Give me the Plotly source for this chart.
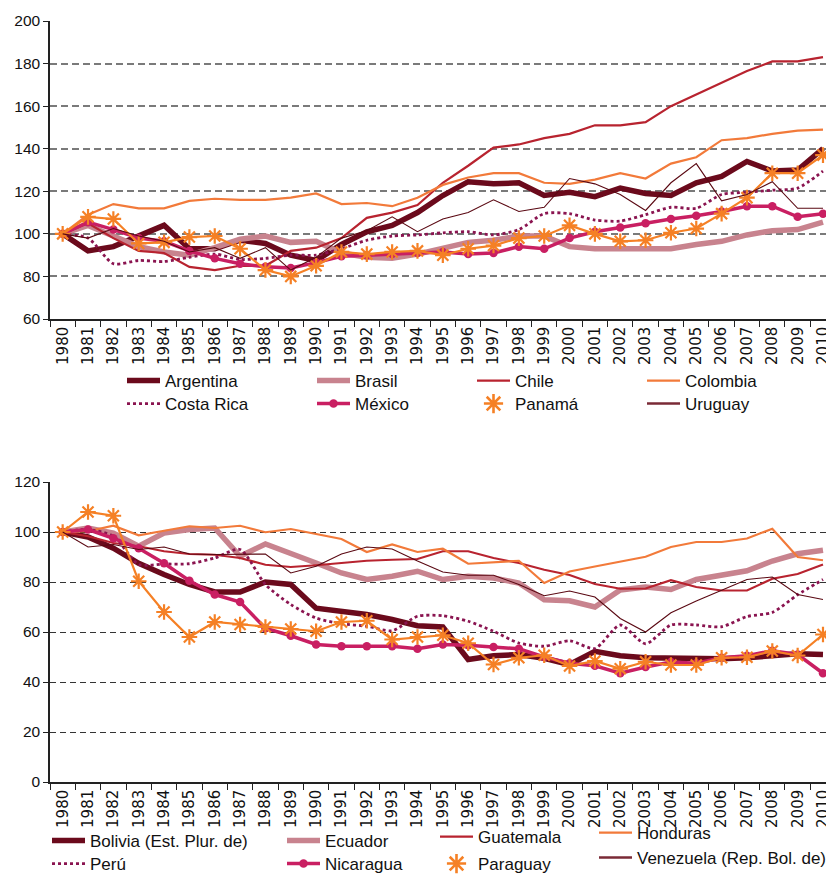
import plotly.graph_objects as go

years = [str(y) for y in range(1980, 2011)]

# ---- Top panel ----
argentina = [100, 92, 94, 99, 104, 93, 93, 97, 95.5, 90, 87.5, 95, 101, 104, 110, 118, 124.5, 123.5, 124, 118, 119.5, 117.5, 121.5, 119, 118, 124, 127, 134, 129.5, 130, 140]
brasil = [100, 104, 99, 94, 91.5, 90, 93.5, 97.5, 99, 96, 96.5, 91, 89, 88.5, 90.5, 93.5, 96, 97, 99, 99, 94, 93, 93, 93, 93, 95, 96.5, 99.5, 101.5, 102, 105.5]
chile = [100, 105, 98, 92, 91, 84.5, 83, 85, 85, 92, 93.5, 98, 107.5, 110, 113.5, 124, 132, 140.5, 142, 145, 147, 151, 151, 152.5, 160, 165.5, 171, 176.5, 181, 181, 183]
colombia = [100, 109, 114, 112, 112, 115.5, 116.5, 116, 116, 117, 119, 114, 114.5, 113, 117, 123, 126.5, 128.5, 128.5, 124, 123.5, 125.5, 128.5, 126, 133, 136, 144, 145, 147, 148.5, 149]
costa_rica = [100, 98, 86, 87.5, 87, 89, 90.5, 88, 88.5, 90, 90, 93, 97, 99, 99.5, 100.5, 101, 99.5, 102, 109.5, 109.5, 106.5, 106, 109, 112.5, 112, 118.5, 119.5, 120.5, 121.5, 129.5]
mexico = [100, 105.5, 102, 98, 96.5, 92, 88.5, 86, 84.5, 84, 86.5, 89.5, 90, 90.5, 91, 91.5, 90.5, 91, 94, 93, 98, 101, 103, 105, 107, 108.5, 110.5, 113, 113, 108, 109.5]
panama = [100, 108, 107, 95.5, 96, 98.5, 99, 93, 83, 80, 85, 91.5, 90.5, 91.5, 92, 90, 93, 94.5, 98, 99, 104, 100, 96.5, 97, 100.5, 102.5, 109.5, 117, 128.5, 128.5, 137]
uruguay = [100, 98, 102.5, 99, 96.5, 91.5, 93.5, 88.5, 93.5, 83, 89, 98, 101.5, 108, 101, 107, 110, 116, 110.5, 112.5, 126, 123.5, 118.5, 111, 124, 133, 115.5, 118.5, 124.5, 112, 112]

# ---- Bottom panel ----
bolivia = [100, 98, 93.5, 87.5, 83, 79, 76, 76, 80, 79, 69.5, 68.5, 67, 65, 62.5, 62, 49, 50.5, 51, 49.5, 47, 52.3, 50.5, 49.7, 49.5, 49, 49.3, 49.7, 50.5, 51.3, 51]
ecuador = [100, 101.6, 99.6, 94.3, 99.6, 101, 101.6, 90.3, 95.2, 91.6, 87.6, 83.6, 81, 82.3, 84.3, 81, 82.3, 81.6, 79.6, 72.9, 72.5, 70, 76.8, 78, 77, 81, 82.6, 84.5, 88.4, 91.3, 92.7]
guatemala = [100, 98.3, 95.6, 94.3, 92.3, 91.2, 90.9, 89.6, 86.9, 86, 86.7, 87.6, 88.5, 88.9, 89.2, 92.3, 92.3, 89.6, 87.6, 84.9, 82.8, 79.2, 77.3, 77.4, 80.7, 78, 76.6, 76.6, 81.3, 83.2, 87]
honduras = [100, 100.3, 102.5, 98.7, 100.5, 102.3, 101.6, 102.5, 99.9, 101.2, 99.2, 97.2, 92, 95, 92, 93.3, 87.3, 87.9, 88.5, 79.6, 84.2, 86.2, 88.3, 90.1, 94, 96, 96, 97.4, 101.3, 90, 88.7]
peru = [100, 101, 98.3, 87, 87.2, 87.3, 89.6, 93, 79, 71, 65.6, 63.3, 62.3, 60.5, 66.3, 66.5, 64.3, 60.3, 55.6, 54.3, 56.5, 53.4, 62.8, 55.3, 62.8, 62.8, 62.1, 66.2, 67.8, 74.9, 81]
nicaragua = [100, 101, 97.5, 93.5, 87.5, 80.5, 75, 72, 61.5, 58.5, 55, 54.3, 54.3, 54.3, 53.3, 55, 54.7, 54, 53.3, 50, 47.5, 46.5, 43.5, 46, 48, 47.5, 49.7, 50.5, 52.5, 51, 43.5]
paraguay = [100, 108, 106.5, 80.3, 68, 58, 64, 63, 62, 61.2, 60.3, 64, 64.5, 57, 58, 58.7, 55.5, 47, 49.7, 50.7, 46.4, 48.4, 45.3, 48.1, 46.8, 46.8, 49.7, 49.9, 52.4, 50.6, 59]
venezuela = [100, 94, 95, 93, 94, 91.2, 91, 91, 91.2, 83.6, 86.3, 91.2, 94, 93.2, 88.4, 84, 82.7, 82.7, 79, 74.5, 76.4, 74, 65.4, 60, 67.7, 72.4, 76.7, 81, 82, 75, 73]

W, H = 834, 876
ML, MR, MT, MB = 42, 0, 13, 102
PW, PH = W - ML - MR, H - MT - MB
LEG_FONT = dict(family="Liberation Sans, Arial, sans-serif", size=17, color="#111")

styles = [
    dict(mode="lines", line=dict(color="#6B0A1C", width=5.5)),
    dict(mode="lines", line=dict(color="#C8838E", width=5.5)),
    dict(mode="lines", line=dict(color="#B8232F", width=2.2)),
    dict(mode="lines", line=dict(color="#F27A3A", width=2.2)),
    dict(mode="lines", line=dict(color="#8A1450", width=2.8, dash="dot", shape="spline", smoothing=0.7)),
    dict(mode="lines+markers", line=dict(color="#C91F62", width=3.5), marker=dict(symbol="circle", size=8.5, color="#C91F62")),
    dict(mode="lines+markers", line=dict(color="#F58025", width=2.2), marker=dict(symbol="asterisk-open", size=13, color="#F58025", line=dict(color="#F58025", width=2.2))),
    dict(mode="lines", line=dict(color="#5A0812", width=1.1)),
]
# legend keys that differ from the drawn line (reference shows marker-only / thicker key)
legend_keys = {
    6: dict(mode="markers", marker=dict(symbol="asterisk-open", size=19, color="#F58025", line=dict(color="#F58025", width=2.6))),
    7: dict(mode="lines", line=dict(color="#7A2A36", width=2.6)),
}

top_series = [("Argentina", argentina), ("Brasil", brasil), ("Chile", chile), ("Colombia", colombia),
              ("Costa Rica", costa_rica), ("México", mexico), ("Panamá", panama), ("Uruguay", uruguay)]
bot_series = [("Bolivia (Est. Plur. de)", bolivia), ("Ecuador", ecuador), ("Guatemala", guatemala), ("Honduras", honduras),
              ("Perú", peru), ("Nicaragua", nicaragua), ("Paraguay", paraguay), ("Venezuela (Rep. Bol. de)", venezuela)]

# legend text start x (px) and centre y (px)
top_leg_pos = [(165, 381), (355, 381), (515, 381), (685, 381), (165, 404), (355, 404), (515, 404), (685, 404)]
bot_leg_pos = [(90, 841), (325, 841), (478, 837), (637, 833), (90, 864), (325, 864), (478, 864), (637, 858)]

X_MAX = 30.75  # right end of category axis (plot runs slightly past the last year)

fig = go.Figure()
legends = {}
k = 0
for series, xa, ya, pos in [(top_series, "x", "y", top_leg_pos), (bot_series, "x2", "y2", bot_leg_pos)]:
    for i, ((name, vals), st, (tx, ty)) in enumerate(zip(series, styles, pos)):
        k += 1
        lid = "legend" if k == 1 else f"legend{k}"
        special = i in legend_keys
        fig.add_trace(go.Scatter(x=years, y=vals, name=name, xaxis=xa, yaxis=ya,
                                 legend=lid, showlegend=not special, **st))
        if special:
            fig.add_trace(go.Scatter(x=[None], y=[None], name=name, xaxis=xa, yaxis=ya,
                                     legend=lid, showlegend=True, hoverinfo="skip", **legend_keys[i]))
        legends[lid] = dict(x=(tx - 51 - ML) / PW, y=(H - MB - ty + 8) / PH, xref="paper", yref="paper",
                            xanchor="left", yanchor="middle", bgcolor="rgba(0,0,0,0)",
                            orientation="h", borderwidth=0, itemwidth=33, font=LEG_FONT,
                            tracegroupgap=0)

tickfont_y = dict(family="Liberation Sans, Arial, sans-serif", size=15.5, color="#111")
tickfont_x = dict(family="DejaVu Sans, Verdana, sans-serif", size=15, color="#111")

xcommon = dict(type="category", tickson="boundaries", ticks="outside", ticklen=6, tickwidth=1,
               tickcolor="#222", showline=True, linecolor="#222", linewidth=1.5, tickangle=-90,
               showgrid=False, tickfont=tickfont_x, range=[-0.5, X_MAX], fixedrange=True)

top_lo = (H - MB - 311) / PH
bot_hi = (H - MB - 474) / PH

fig.update_layout(
    width=W, height=H,
    margin=dict(l=ML, r=MR, t=MT, b=MB, autoexpand=False),
    paper_bgcolor="white", plot_bgcolor="white",
    showlegend=True,
    xaxis=dict(domain=[0, 1], anchor="y", **xcommon),
    xaxis2=dict(domain=[0, 1], anchor="y2", **xcommon),
    yaxis=dict(domain=[top_lo, 1.0], range=[60, 200], dtick=20, showgrid=True, gridcolor="#7a7a7a",
               gridwidth=1.5, griddash="7px,4px", showline=True, linecolor="#222", linewidth=1.5,
               ticks="outside", ticklen=5, tickcolor="#222", zeroline=False, tickfont=tickfont_y),
    yaxis2=dict(domain=[0, bot_hi], range=[0, 120], dtick=20, showgrid=True, gridcolor="#333333",
                gridwidth=1.2, griddash="6px,4px", showline=True, linecolor="#222", linewidth=1.5,
                ticks="outside", ticklen=5, tickcolor="#222", zeroline=False, tickfont=tickfont_y),
    **legends,
)

fig.write_html("out.html", config={"displayModeBar": False})
